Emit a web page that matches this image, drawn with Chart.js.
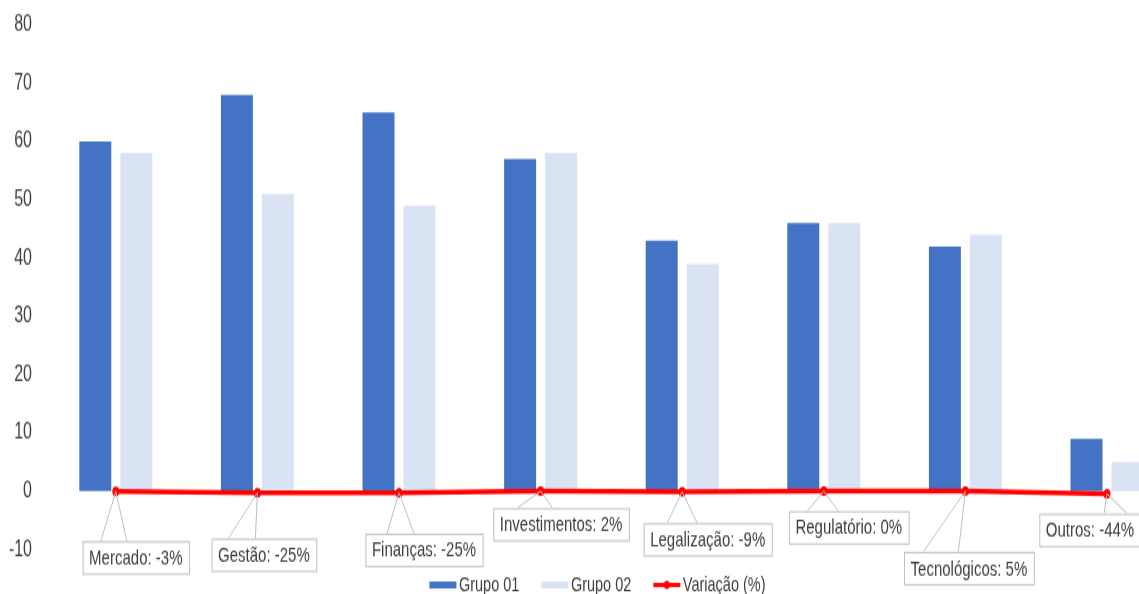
<!DOCTYPE html>
<html>
<head>
<meta charset="utf-8">
<script src="https://cdn.jsdelivr.net/npm/chart.js@4/dist/chart.umd.min.js"></script>
<style>
  html, body { margin: 0; padding: 0; overflow: hidden; background: #ffffff; }
  #wrap { position: absolute; left: 0; top: 0; width: 1190px; height: 424px;
          transform: scaleY(1.400943); transform-origin: 0 0; }
</style>
</head>
<body>
<div id="wrap"><canvas id="chart" width="1190" height="424"></canvas></div>
<script>
// ---- data ----
const categories = ['Mercado', 'Gestão', 'Finanças', 'Investimentos', 'Legalização', 'Regulatório', 'Tecnológicos', 'Outros'];
const grupo01 = [60, 68, 65, 57, 43, 46, 42, 9];
const grupo02 = [58, 51, 49, 58, 39, 46, 44, 5];
const variacao = [-0.03, -0.25, -0.25, 0.02, -0.09, 0.00, 0.05, -0.44];
const yTicks = [-10, 0, 10, 20, 30, 40, 50, 60, 70, 80];
const seriesNames = ['Grupo 01', 'Grupo 02', 'Variação (%)'];

// ---- layout / style (not data) ----
const S = 594 / 424; // vertical stretch of the reference picture
// callout box centre offset from point [dx, dy] and wedge base x offsets [b1, b2] (picture px)
const calloutLayout = [
  [20, 66, -15, 11],
  [6.5, 62, -29, -2],
  [25, 57, -12, 15],
  [20.5, 33, -23, 12],
  [25.5, 47.5, -15, 15],
  [25, 36, -16.5, 14.5],
  [3.5, 77, -42, -7],
  [-17, 36, -3, 20]
];
const FONT = '"Liberation Sans", Arial, sans-serif';
const C1 = '#4472C4', C2 = '#DAE3F3', C3 = '#FF0000', TXT = '#404040';

function pct(v) { const r = Math.round(v * 100); return (r === 0 ? 0 : r) + '%'; }

const calloutPlugin = {
  id: 'callouts',
  afterDatasetsDraw(chart) {
    const meta = chart.getDatasetMeta(2);
    const ctx = chart.ctx;
    ctx.save();
    ctx.font = '15px ' + FONT;
    meta.data.forEach((pt, i) => {
      const [dx, dy, b1, b2] = calloutLayout[i];
      const text = categories[i] + ': ' + pct(variacao[i]);
      const w = ctx.measureText(text).width + 13;
      const h = 23;
      const cx = pt.x + dx, cy = pt.y + dy / S;
      const top = cy - h / 2;
      ctx.beginPath();
      ctx.moveTo(pt.x + b1, top);
      ctx.lineTo(pt.x, pt.y);
      ctx.lineTo(pt.x + b2, top);
      ctx.strokeStyle = '#BFBFBF';
      ctx.lineWidth = 1;
      ctx.stroke();
      ctx.fillStyle = '#FFFFFF';
      ctx.fillRect(cx - w / 2, top, w, h);
      ctx.strokeRect(cx - w / 2 + 0.5, top + 0.5, w, h);
      ctx.fillStyle = TXT;
      ctx.textAlign = 'center';
      ctx.textBaseline = 'middle';
      ctx.fillText(text, cx, cy + 1);
    });
    ctx.restore();
  }
};

const legendPlugin = {
  id: 'customLegend',
  afterDraw(chart) {
    const ctx = chart.ctx;
    ctx.save();
    ctx.font = '14.5px ' + FONT;
    const boxW = 27, gapText = 2.5, gapItem = 22;
    const widths = seriesNames.map(n => boxW + gapText + ctx.measureText(n).width);
    const total = widths.reduce((a, b) => a + b, 0) + gapItem * (seriesNames.length - 1);
    let x = 597.5 - total / 2;
    const y = 585 / S;
    const colors = [C1, C2, C3];
    seriesNames.forEach((n, i) => {
      if (i < 2) {
        ctx.fillStyle = colors[i];
        ctx.fillRect(x, y - 2.5, boxW, 5);
      } else {
        ctx.strokeStyle = C3;
        ctx.lineWidth = 3;
        ctx.beginPath();
        ctx.moveTo(x, y); ctx.lineTo(x + boxW, y); ctx.stroke();
        ctx.fillStyle = C3;
        ctx.beginPath(); ctx.arc(x + boxW / 2, y, 3, 0, Math.PI * 2); ctx.fill();
      }
      ctx.fillStyle = TXT;
      ctx.textAlign = 'left';
      ctx.textBaseline = 'middle';
      ctx.fillText(n, x + boxW + gapText, y);
      x += widths[i] + gapItem;
    });
    ctx.restore();
  }
};

new Chart(document.getElementById('chart'), {
  data: {
    labels: categories,
    datasets: [
      { type: 'bar', label: seriesNames[0], data: grupo01, backgroundColor: C1, order: 1,
        categoryPercentage: 0.579, barPercentage: 0.78 },
      { type: 'bar', label: seriesNames[1], data: grupo02, backgroundColor: C2, order: 2,
        categoryPercentage: 0.579, barPercentage: 0.78 },
      { type: 'line', label: seriesNames[2], data: variacao, borderColor: C3, backgroundColor: C3,
        borderWidth: 3.5, pointRadius: 3.5, pointBackgroundColor: C3, pointBorderColor: C3,
        pointBorderWidth: 0, tension: 0, order: 0 }
    ]
  },
  options: {
    responsive: false,
    animation: false,
    layout: { padding: { left: 0, right: 12.2, top: 17.85, bottom: 31.8 } },
    plugins: { legend: { display: false }, tooltip: { enabled: false } },
    scales: {
      x: { type: 'category', display: false, offset: true },
      y: {
        min: yTicks[0], max: yTicks[yTicks.length - 1],
        afterBuildTicks(scale) { scale.ticks = yTicks.map(v => ({ value: v })); },
        afterFit(scale) { scale.width = 45; },
        grid: { display: false, drawTicks: true, tickLength: 13 },
        border: { display: false },
        ticks: { padding: 0, color: TXT, font: { family: FONT, size: 16 } }
      }
    }
  },
  plugins: [calloutPlugin, legendPlugin]
});
</script>
</body>
</html>
